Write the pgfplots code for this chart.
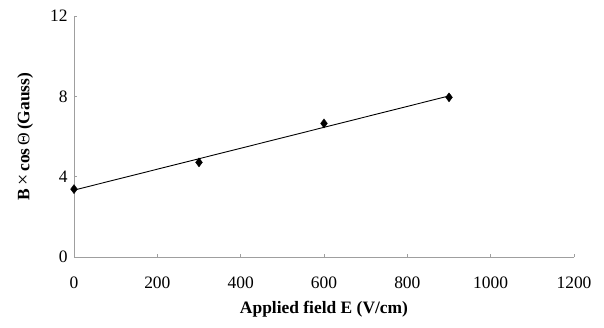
\documentclass[border=0pt]{standalone}
\usepackage{fontspec}
\setmainfont{Liberation Serif}
\usepackage{pgfplots}
\pgfplotsset{compat=1.18}
\begin{document}
\begin{tikzpicture}
\useasboundingbox (-74bp,-71bp) rectangle (530bp,257bp);
\begin{axis}[
  at={(0,0)}, anchor=south west,
  width=500bp, height=241bp, scale only axis,
  xmin=0, xmax=1200, ymin=0, ymax=12,
  xtick={0,200,...,1200}, ytick={0,4,8,12},
  axis lines*=left,
  axis line style={gray!75, line width=0.6bp},
  tick style={gray!75, line width=0.5bp},
  major tick length=3bp, tick align=inside,
  /pgf/number format/assume math mode=true,
  /pgf/number format/1000 sep={},
  scaled x ticks=false,
  tick label style={font=\fontsize{17.5}{20}\selectfont},
  xticklabel style={yshift=-16bp},
  yticklabel style={xshift=-3bp},
  label style={font=\bfseries\fontsize{17.5}{20}\selectfont},
  xlabel={Applied field E (V/cm)},
  ylabel={B\,{\mdseries\fontsize{20}{20}\selectfont ×}\,cos\,{\mdseries Θ}\,(Gauss)},
  xlabel style={at={(axis description cs:0.5,-0.2324)}, anchor=base},
  ylabel style={at={(axis description cs:-0.089,0.5)}, anchor=base},
  clip=false
]
\addplot[black, line width=0.9bp] coordinates {(0,3.33) (900,8.02)};
\addplot[only marks, mark=diamond*, mark size=4.5bp, black] coordinates {(0,3.38) (300,4.71) (600,6.65) (900,7.95)};
\end{axis}
\end{tikzpicture}
\end{document}
